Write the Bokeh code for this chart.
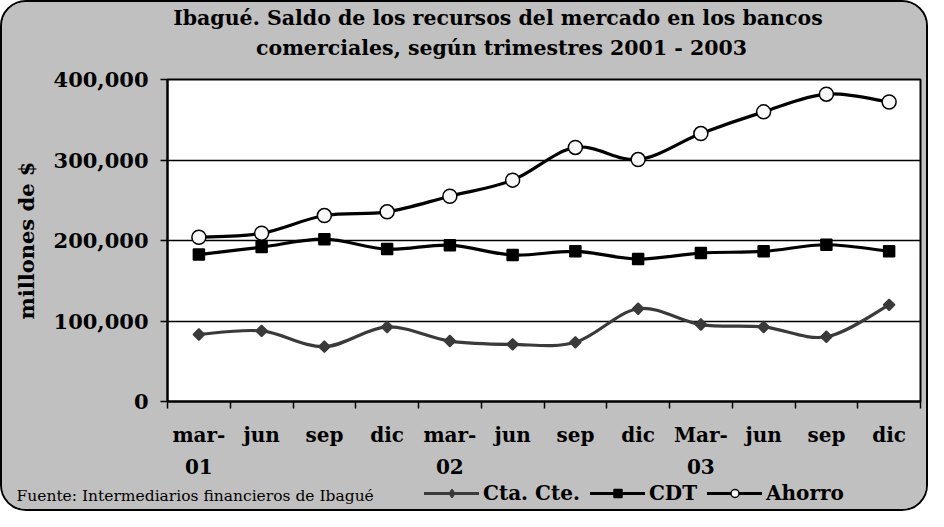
from bokeh.plotting import figure
from bokeh.layouts import column
from bokeh.models import (FixedTicker, Legend, LegendItem, Label, Range1d,
                          NumeralTickFormatter, ColumnDataSource)
from bokeh.embed import file_html
from bokeh.resources import INLINE

# ---- data ----
categories = ["mar-\n01", "jun", "sep", "dic", "mar-\n02", "jun", "sep", "dic",
              "Mar-\n03", "jun", "sep", "dic"]
cta_cte = [83300, 87700, 68100, 92600, 75100, 71000, 73500, 115200, 95600, 92600, 80400, 120100]
cdt = [182500, 191800, 201600, 189300, 194200, 182000, 186500, 177000, 184400, 186500, 194700, 186500]
ahorro = [204000, 209000, 231000, 235600, 255000, 275000, 315600, 300500, 332800, 359800, 381800, 372000]
y_ticks = [0, 100000, 200000, 300000, 400000]
series_names = ["Cta. Cte.", "CDT", "Ahorro"]
title_lines = ["Ibagué.  Saldo de los recursos del mercado en los bancos",
               "comerciales, según trimestres 2001 - 2003"]
source_note = "Fuente: Intermediarios financieros de Ibagué"

FONT = "DejaVu Serif"
GRAY = "#c0c0c0"
W = 924
TOP_H, MAIN_H, BOT_H = 60, 419, 28
xs = [i + 0.5 for i in range(len(categories))]


def smooth_segments(x, y):
    n = len(x)
    d = dict(x0=[], y0=[], x1=[], y1=[], cx0=[], cy0=[], cx1=[], cy1=[])
    for i in range(n - 1):
        a = max(i - 1, 0)
        b = min(i + 2, n - 1)
        d["x0"].append(x[i]); d["y0"].append(y[i])
        d["x1"].append(x[i + 1]); d["y1"].append(y[i + 1])
        d["cx0"].append(x[i] + (x[i + 1] - x[a]) / 6.0)
        d["cy0"].append(y[i] + (y[i + 1] - y[a]) / 6.0)
        d["cx1"].append(x[i + 1] - (x[b] - x[i]) / 6.0)
        d["cy1"].append(y[i + 1] - (y[b] - y[i]) / 6.0)
    return ColumnDataSource(d)


def strip(height):
    f = figure(width=W, height=height, output_backend="svg", toolbar_location=None,
               x_range=Range1d(0, W), y_range=Range1d(0, height),
               x_axis_location=None, y_axis_location=None,
               min_border=0, min_border_left=0, min_border_right=0,
               min_border_top=0, min_border_bottom=0, frame_align=False)
    f.xgrid.visible = False
    f.ygrid.visible = False
    f.outline_line_color = None
    f.background_fill_color = GRAY
    f.border_fill_color = GRAY
    return f


styles = [
    dict(data=cta_cte, color="#3a3a3a", marker="square", size=8, angle=0.785398,
         fill="#3a3a3a", mline="#3a3a3a", legend_marker="diamond"),
    dict(data=cdt, color="black", marker="square", size=11, angle=0.0,
         fill="black", mline="black", legend_marker="square"),
    dict(data=ahorro, color="black", marker="circle", size=14, angle=0.0,
         fill="#f8f8f8", mline="black", legend_marker="circle"),
]


def draw_series(fig, for_legend=False):
    out = []
    for name, st in zip(series_names, styles):
        src = smooth_segments(xs, st["data"])
        ln = fig.bezier(x0="x0", y0="y0", x1="x1", y1="y1", cx0="cx0", cy0="cy0",
                        cx1="cx1", cy1="cy1", source=src, line_color=st["color"],
                        line_width=3.2, line_cap="round")
        mk = fig.scatter(xs, st["data"],
                         marker=st["legend_marker"] if for_legend else st["marker"],
                         size=st["size"], angle=0.0 if for_legend else st["angle"],
                         fill_color=st["fill"], line_color=st["mline"], line_width=1.5)
        out.append((name, ln, mk))
    return out


# ---- title strip ----
top = strip(TOP_H)
for txt, yy in zip(title_lines, [TOP_H - 15, TOP_H - 45]):
    top.add_layout(Label(x=499, y=yy, text=txt, text_font=FONT, text_font_style="bold",
                         text_font_size="20.5px", text_align="center",
                         text_baseline="middle", text_color="black"))

# ---- main chart ----
p = figure(width=W, height=MAIN_H, output_backend="svg", toolbar_location=None,
           x_range=Range1d(0, len(categories)), y_range=Range1d(0, 400000),
           min_border_left=165, min_border_right=6, min_border_top=17, min_border_bottom=80,
           frame_align=False)
p.background_fill_color = "white"
p.border_fill_color = GRAY
p.outline_line_color = "black"
p.outline_line_width = 2

xa = p.xaxis[0]
xa.ticker = FixedTicker(ticks=xs, minor_ticks=list(range(len(categories) + 1)))
xa.major_label_overrides = {x: c for x, c in zip(xs, categories)}
xa.major_tick_line_color = None
xa.minor_tick_in = 0
xa.minor_tick_out = 7
xa.minor_tick_line_color = "black"
xa.minor_tick_line_width = 1.5
xa.axis_line_color = "black"
xa.axis_line_width = 2
xa.major_label_text_font = FONT
xa.major_label_text_font_style = "bold"
xa.major_label_text_font_size = "20px"
xa.major_label_text_color = "black"
xa.major_label_text_line_height = 1.35
xa.major_label_standoff = 14

ya = p.yaxis[0]
ya.ticker = FixedTicker(ticks=y_ticks)
ya.formatter = NumeralTickFormatter(format="0,0")
ya.major_tick_in = 0
ya.major_tick_out = 7
ya.major_tick_line_color = "black"
ya.major_tick_line_width = 1.5
ya.minor_tick_line_color = None
ya.axis_line_color = "black"
ya.axis_line_width = 2
ya.major_label_text_font = FONT
ya.major_label_text_font_style = "bold"
ya.major_label_text_font_size = "21px"
ya.major_label_text_color = "black"
ya.major_label_standoff = 12
ya.axis_label = "millones de $"
ya.axis_label_text_font = FONT
ya.axis_label_text_font_style = "bold"
ya.axis_label_text_font_size = "21px"
ya.axis_label_text_color = "black"
ya.axis_label_standoff = 12

p.xgrid.visible = False
p.ygrid.ticker = FixedTicker(ticks=y_ticks[1:-1])
p.ygrid.grid_line_color = "black"
p.ygrid.grid_line_width = 1.5

draw_series(p)

# ---- bottom strip: source note + legend (series drawn out of this strip's range) ----
bot = strip(BOT_H)
items = [LegendItem(label=name, renderers=[ln, mk])
         for name, ln, mk in draw_series(bot, for_legend=True)]
legend = Legend(items=items, orientation="horizontal", location=(422, 4),
                glyph_width=55, glyph_height=20, label_standoff=4, spacing=10,
                padding=0, margin=0, background_fill_alpha=0, border_line_alpha=0,
                label_text_font=FONT, label_text_font_style="bold",
                label_text_font_size="20px", label_text_color="black",
                label_height=20)
bot.add_layout(legend)
bot.add_layout(Label(x=14, y=14, text=source_note, text_font=FONT, text_font_size="15.5px",
                     text_baseline="middle", text_color="black"))

layout = column(top, p, bot, spacing=0,
                styles={"border": "2px solid black", "border-radius": "26px",
                        "overflow": "hidden", "background-color": GRAY})

open("out.html", "w").write(file_html(layout, INLINE))
